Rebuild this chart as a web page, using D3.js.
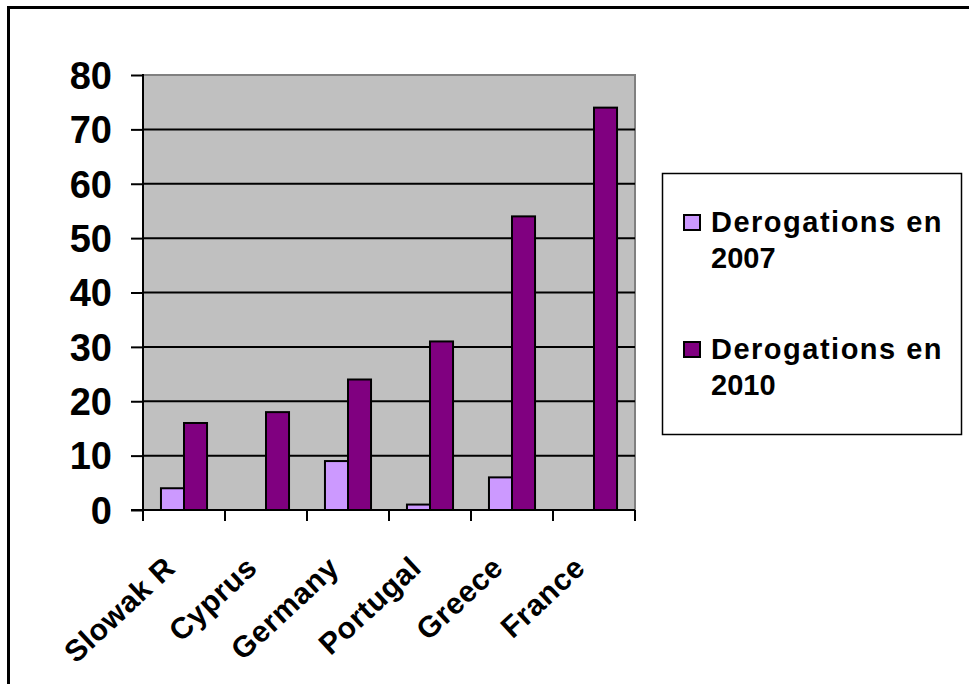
<!DOCTYPE html>
<html>
<head>
<meta charset="utf-8">
<script src="https://cdn.jsdelivr.net/npm/d3@7"></script>
<style>
  body { margin: 0; background: #fff; }
  svg { display: block; }
  svg text { font-family: 'Liberation Sans', Arial, sans-serif; font-weight: bold; fill: #000; }
</style>
</head>
<body>
<script>
// data
const countries = ['Slowak R', 'Cyprus', 'Germany', 'Portugal', 'Greece', 'France']
const series = ['Derogations en 2007', 'Derogations en 2010']
const values2007 = [4, null, 9, 1, 6, null]
const values2010 = [16, 18, 24, 31, 54, 74]
const yTicks = [0, 10, 20, 30, 40, 50, 60, 70, 80]

const COLORS = ['#CC99FF', '#800080']

const PLOT = { left: 143, right: 635, top: 75, bottom: 510 }

const rows = countries.map((c, i) => ({ country: c, vals: [values2007[i], values2010[i]] }))

let svg = d3.select('body').append('svg')
  .attr('width', 969)
  .attr('height', 684)

// outer frame (runs off the picture at right and bottom)
svg.append('rect')
  .attr('x', 8.5).attr('y', 7.5)
  .attr('width', 1000).attr('height', 720)
  .attr('fill', 'none')
  .attr('stroke', '#000')
  .attr('stroke-width', 3)

let x0 = d3.scaleBand()
  .domain(countries)
  .range([PLOT.left, PLOT.right])

let x1 = d3.scaleBand()
  .domain(series)
  .range([0, x0.bandwidth()])
  .paddingOuter(0.78)

let y = d3.scaleLinear()
  .domain([0, 80])
  .range([PLOT.bottom, PLOT.top])

// plot area
svg.append('rect')
  .attr('x', PLOT.left).attr('y', PLOT.top)
  .attr('width', PLOT.right - PLOT.left)
  .attr('height', PLOT.bottom - PLOT.top)
  .attr('fill', '#C0C0C0')
  .attr('stroke', '#808080')
  .attr('stroke-width', 2)

// gridlines
svg.append('g')
  .selectAll('line')
    .data(yTicks.slice(1, -1))
  .enter().append('line')
    .attr('x1', PLOT.left).attr('x2', PLOT.right)
    .attr('y1', (d) => y(d)).attr('y2', (d) => y(d))
    .attr('stroke', '#000')
    .attr('stroke-width', 2)

// bars
let group = svg.append('g')
  .selectAll('.group')
    .data(rows)
  .enter().append('g')
    .attr('class', 'group')
    .attr('transform', (d) => 'translate(' + x0(d.country) + ',0)')

group.selectAll('rect')
    .data((d) => d.vals.map((v, i) => ({ s: series[i], v: v, i: i })).filter((b) => b.v != null))
  .enter().append('rect')
    .attr('x', (d) => x1(d.s))
    .attr('width', x1.bandwidth())
    .attr('y', (d) => y(d.v))
    .attr('height', (d) => y(0) - y(d.v))
    .attr('fill', (d) => COLORS[d.i])
    .attr('stroke', '#000')
    .attr('stroke-width', 2)

// y axis
let yAxis = svg.append('g')
  .attr('transform', 'translate(' + PLOT.left + ',0)')
  .call(d3.axisLeft(y).tickValues(yTicks).tickSize(12).tickPadding(19))

yAxis.select('.domain')
  .attr('stroke-width', 2)
  .attr('d', 'M0,' + (PLOT.top - 1) + 'V' + PLOT.bottom)
yAxis.selectAll('.tick line').attr('stroke-width', 2)
yAxis.selectAll('text')
  .attr('font-size', 38)
  .attr('font-family', null)
  .attr('dy', '0.35em')

// x axis
let xAxis = svg.append('g')
  .attr('transform', 'translate(0,' + PLOT.bottom + ')')
  .call(d3.axisBottom(x0).tickSize(0).tickFormat(''))

xAxis.select('.domain')
  .attr('stroke-width', 2)
  .attr('d', 'M' + (PLOT.left - 12) + ',0H' + PLOT.right)

xAxis.selectAll('.boundary')
    .data(d3.range(countries.length + 1))
  .enter().append('line')
    .attr('class', 'boundary')
    .attr('x1', (i) => PLOT.left + i * x0.step())
    .attr('x2', (i) => PLOT.left + i * x0.step())
    .attr('y1', 0).attr('y2', 11)
    .attr('stroke', '#000')
    .attr('stroke-width', 2)

svg.append('g')
  .selectAll('text')
    .data(countries)
  .enter().append('text')
    .attr('transform', (d) => 'translate(' + (x0(d) + x0.bandwidth() / 2 - 7) + ',' + (PLOT.bottom + 60) + ') rotate(-43)')
    .attr('text-anchor', 'end')
    .attr('font-size', 30)
    .attr('letter-spacing', 0.6)
    .text((d) => d)

// legend
svg.append('rect')
  .attr('x', 662.5).attr('y', 173.5)
  .attr('width', 299).attr('height', 261)
  .attr('fill', '#fff')
  .attr('stroke', '#000')
  .attr('stroke-width', 1.5)

let entry = svg.append('g')
  .selectAll('.entry')
    .data(series)
  .enter().append('g')
    .attr('class', 'entry')
    .attr('transform', (d, i) => 'translate(0,' + (i * 127) + ')')

entry.append('rect')
  .attr('x', 684).attr('y', 215)
  .attr('width', 16).attr('height', 15)
  .attr('fill', (d, i) => COLORS[i])
  .attr('stroke', '#000')
  .attr('stroke-width', 2)

let label = entry.append('text')
  .attr('x', 711)
  .attr('y', 232)
  .attr('font-size', 29)
  .attr('letter-spacing', 1.5)

label.append('tspan')
  .attr('x', 711)
  .text((d) => d.replace(/ \d+$/, ''))
label.append('tspan')
  .attr('x', 711)
  .attr('dy', 36)
  .attr('letter-spacing', 0)
  .text((d) => d.match(/\d+$/)[0])
</script>
</body>
</html>
